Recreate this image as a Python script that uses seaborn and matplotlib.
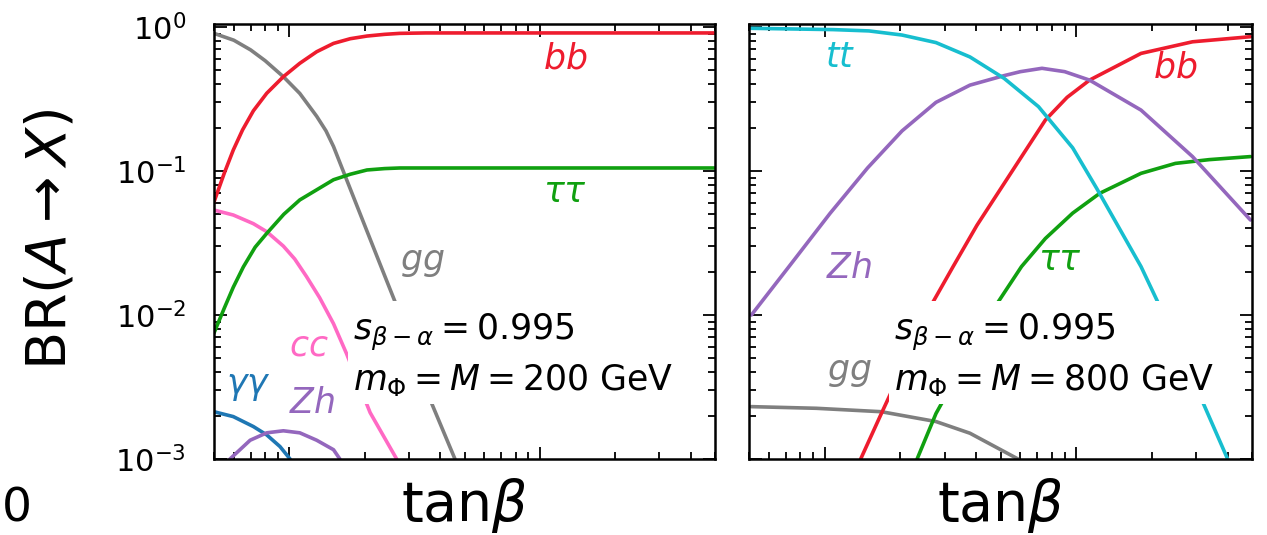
import numpy as np
import pandas as pd
import matplotlib
matplotlib.use("Agg")
import matplotlib.pyplot as plt
import seaborn as sns
from matplotlib.ticker import LogLocator

sns.set_theme(style="ticks")
plt.rcParams['font.family'] = ['DejaVu Sans']
plt.rcParams['mathtext.fontset'] = 'dejavusans'
plt.rcParams['text.color'] = 'black'
plt.rcParams['axes.labelcolor'] = 'black'
plt.rcParams['xtick.color'] = 'black'
plt.rcParams['ytick.color'] = 'black'
plt.rcParams['axes.edgecolor'] = 'black'

# ---------------- data: left panel (m = 200 GeV) ----------------
L_bb_x = [0.5, 0.55, 0.597, 0.65, 0.718, 0.812, 0.946, 1.10, 1.285, 1.50, 1.75, 2.04, 2.4, 2.76, 3.5, 10.0, 50.0]
L_bb_y = [0.061, 0.097, 0.14, 0.193, 0.262, 0.347, 0.452, 0.56, 0.674, 0.77, 0.83, 0.866, 0.89, 0.904, 0.91, 0.91, 0.91]

L_tautau_x = [0.5, 0.55, 0.597, 0.655, 0.73, 0.812, 0.95, 1.10, 1.50, 1.75, 2.04, 2.4, 2.76, 10.0, 50.0]
L_tautau_y = [0.0075, 0.0112, 0.0156, 0.0216, 0.0296, 0.0369, 0.0501, 0.063, 0.087, 0.095, 0.1017, 0.104, 0.105, 0.105, 0.105]

L_gg_x = [0.5, 0.6, 0.7, 0.8, 0.946, 1.10, 1.285, 1.4, 1.5, 1.64, 1.91, 2.30, 2.69, 3.71, 4.58]
L_gg_y = [0.904, 0.81, 0.694, 0.584, 0.452, 0.346, 0.240, 0.19, 0.148, 0.0999, 0.0511, 0.0226, 0.0114, 0.0024, 0.001]

L_cc_x = [0.5, 0.597, 0.718, 0.812, 0.946, 1.05, 1.17, 1.32, 1.50, 1.69, 2.10, 2.68]
L_cc_y = [0.0536, 0.0495, 0.0431, 0.0379, 0.0301, 0.0245, 0.0185, 0.0132, 0.0087, 0.0054, 0.0021, 0.001]

L_aa_x = [0.5, 0.597, 0.718, 0.812, 0.917, 1.006]
L_aa_y = [0.00213, 0.00197, 0.00168, 0.00147, 0.00122, 0.001]

L_zh_x = [0.579, 0.697, 0.812, 0.946, 1.10, 1.285, 1.50, 1.59]
L_zh_y = [0.001, 0.00135, 0.00152, 0.00157, 0.00152, 0.00135, 0.00116, 0.001]

# ---------------- data: right panel (m = 800 GeV) ----------------
R_tt_x = [0.511, 1.08, 1.5, 2.03, 2.77, 3.78, 5.17, 7.08, 9.68, 12.05, 18.1, 21.2, 31.8, 40.0]
R_tt_y = [0.98, 0.96, 0.94, 0.88, 0.78, 0.62, 0.44, 0.28, 0.145, 0.0760, 0.0217, 0.0121, 0.0025, 0.001]

R_zh_x = [0.511, 0.721, 1.05, 1.48, 2.03, 2.77, 3.78, 5.17, 6.0, 7.31, 9.0, 11.3, 18.1, 29.0, 49.3]
R_zh_y = [0.010, 0.0217, 0.0508, 0.105, 0.19, 0.30, 0.395, 0.46, 0.49, 0.517, 0.49, 0.428, 0.265, 0.126, 0.0457]

R_bb_x = [1.39, 1.68, 2.68, 3.24, 4.03, 5.17, 7.54, 9.2, 11.3, 18.1, 29.0, 49.3]
R_bb_y = [0.001, 0.00207, 0.0121, 0.0217, 0.042, 0.082, 0.226, 0.325, 0.428, 0.656, 0.79, 0.857]

R_tautau_x = [2.33, 2.77, 4.86, 6.06, 7.54, 9.68, 12.4, 18.1, 24.8, 33.8, 49.3]
R_tautau_y = [0.001, 0.00207, 0.0121, 0.0217, 0.034, 0.051, 0.070, 0.0964, 0.113, 0.12, 0.126]

R_gg_x = [0.511, 0.926, 1.68, 2.77, 3.78, 5.01, 5.87]
R_gg_y = [0.00231, 0.00225, 0.00213, 0.00182, 0.00151, 0.00116, 0.001]

# colours
C_BB = '#ee1c2e'
C_TAU = '#10a010'
C_GG = '#7f7f7f'
C_CC = '#ff69c4'
C_AA = '#1f77b4'
C_ZH = '#9467bd'
C_TT = '#17becf'

LW = 2.6
TXT = 25

fig = plt.figure(figsize=(12.67, 5.35), dpi=100)
axL = fig.add_axes([214/1267, 1-459/535, 501/1267, 435/535])
axR = fig.add_axes([749/1267, 1-459/535, 503/1267, 435/535])

def draw(ax, x, y, c):
    df = pd.DataFrame({'x': x, 'y': y})
    sns.lineplot(data=df, x='x', y='y', color=c, lw=LW, ax=ax, sort=False,
                 estimator=None, legend=False)

draw(axL, L_gg_x, L_gg_y, C_GG)
draw(axL, L_cc_x, L_cc_y, C_CC)
draw(axL, L_aa_x, L_aa_y, C_AA)
draw(axL, L_zh_x, L_zh_y, C_ZH)
draw(axL, L_tautau_x, L_tautau_y, C_TAU)
draw(axL, L_bb_x, L_bb_y, C_BB)

draw(axR, R_gg_x, R_gg_y, C_GG)
draw(axR, R_tautau_x, R_tautau_y, C_TAU)
draw(axR, R_bb_x, R_bb_y, C_BB)
draw(axR, R_zh_x, R_zh_y, C_ZH)
draw(axR, R_tt_x, R_tt_y, C_TT)

for ax in (axL, axR):
    ax.set_xscale('log')
    ax.set_yscale('log')
    ax.set_xlim(0.5, 50)
    ax.set_ylim(1e-3, 1.05)
    ax.yaxis.set_major_locator(LogLocator(base=10, numticks=10))
    ax.yaxis.set_minor_locator(LogLocator(base=10, subs=np.arange(2, 10), numticks=10))
    ax.xaxis.set_minor_locator(LogLocator(base=10, subs=np.arange(2, 10), numticks=10))
    ax.tick_params(which='both', direction='in', top=True, right=True,
                   labelbottom=False, width=1.3, colors='black')
    ax.tick_params(which='major', length=9)
    ax.tick_params(which='minor', length=5)
    ax.tick_params(axis='y', labelsize=22, pad=20)
    for s in ax.spines.values():
        s.set_linewidth(1.8)
        s.set_color('black')
    ax.set_xlabel('tan$\\beta$', fontsize=40, color='black')
    ax.xaxis.set_label_coords(0.5, -0.04)
    ax.set_ylabel('')

axR.tick_params(axis='y', labelleft=False)
axL.set_ylabel('BR$(A\\rightarrow X)$', fontsize=40, color='black')
axL.yaxis.set_label_coords(-0.273, 0.506)

def lab(ax, x, y, s, c):
    ax.text(x, y, s, color=c, fontsize=TXT, ha='center', va='center')

lab(axL, 12.6, 0.60, '$bb$', C_BB)
lab(axL, 12.6, 0.072, '$\\tau\\tau$', C_TAU)
lab(axL, 3.38, 0.0233, '$gg$', C_GG)
lab(axL, 1.20, 0.0061, '$cc$', C_CC)
lab(axL, 0.685, 0.0032, '$\\gamma\\gamma$', C_AA)
lab(axL, 1.23, 0.00245, '$Zh$', C_ZH)

lab(axR, 1.157, 0.62, '$tt$', C_TT)
lab(axR, 24.7, 0.52, '$bb$', C_BB)
lab(axR, 1.256, 0.0212, '$Zh$', C_ZH)
lab(axR, 8.64, 0.0241, '$\\tau\\tau$', C_TAU)
lab(axR, 1.256, 0.0040, '$gg$', C_GG)

box = dict(boxstyle='square,pad=0.15', facecolor='white', edgecolor='none')
axL.text(0.277, 0.239, '$s_{\\beta-\\alpha}=0.995$\n$m_\\Phi=M=200$ GeV',
         transform=axL.transAxes, fontsize=TXT, ha='left', va='center',
         linespacing=1.35, bbox=box, zorder=5, color='black')
axR.text(0.288, 0.239, '$s_{\\beta-\\alpha}=0.995$\n$m_\\Phi=M=800$ GeV',
         transform=axR.transAxes, fontsize=TXT, ha='left', va='center',
         linespacing=1.35, bbox=box, zorder=5, color='black')

fig.text(2/1267, 1-487/535, '0', fontsize=34, ha='left', va='top', color='black')

fig.savefig('out.png', dpi=100)
